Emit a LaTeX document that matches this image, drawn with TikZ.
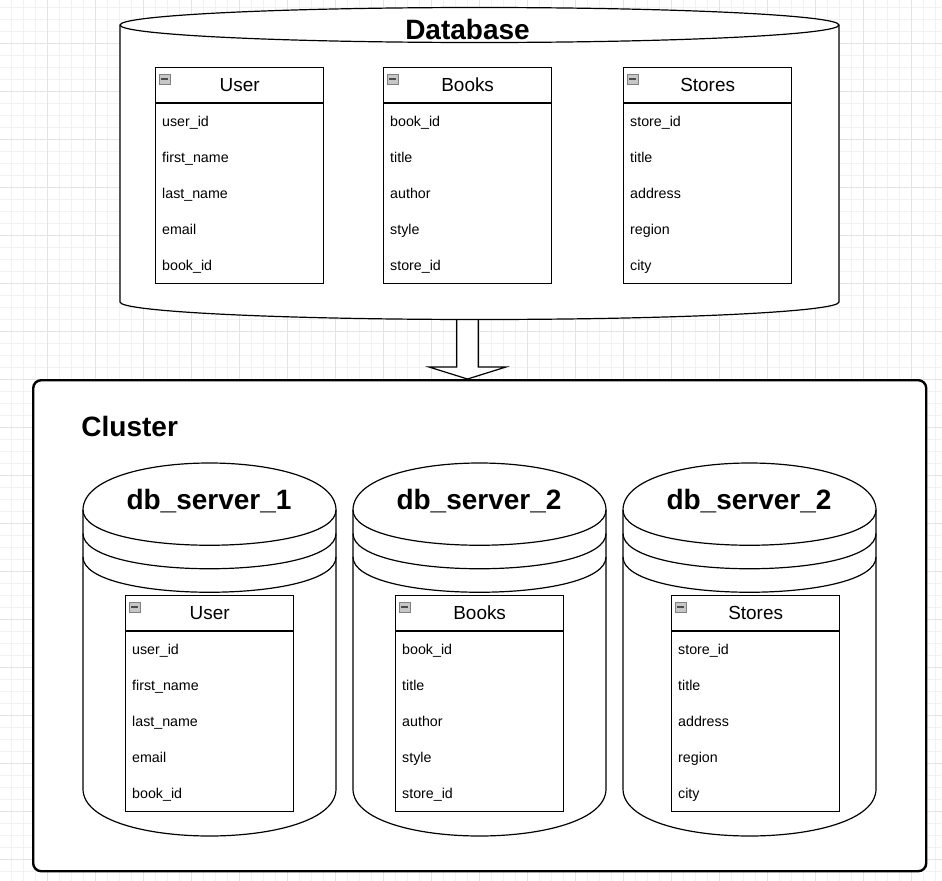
\documentclass[tikz,border=0pt]{standalone}
\usepackage{fontspec}
\setmainfont{Liberation Sans}
\usetikzlibrary{calc}

\tikzset{
  minorgrid/.style={draw=black!5, line width=0.8bp},
  majorgrid/.style={draw=black!11, line width=0.8bp},
  shapeline/.style={draw=black, line width=1.2bp, fill=white},
  curveline/.style={draw=black, line width=1.2bp},
  tablebox/.style={draw=black, line width=1.3bp, fill=white, inner sep=0pt,
    minimum width=168bp, minimum height=216bp, anchor=north west},
  tabtitle/.style={font=\fontsize{19}{22}\selectfont, inner sep=0pt, anchor=base},
  rowtext/.style={font=\fontsize{14.3}{17}\selectfont, inner sep=0pt, anchor=base west},
  bigtitle/.style={font=\fontsize{28.1}{33}\selectfont\bfseries, inner sep=0pt, anchor=base},
  iconbox/.style={draw=black!50, fill=black!22, line width=0.8bp},
  clusterbox/.style={draw=black, fill=white, line width=2.4bp, rounded corners=8bp,
    inner sep=0pt, minimum width=893bp, minimum height=491bp, anchor=north west},
}

\newcommand{\ertable}[5]{%
  \node[tablebox] (#1) at (#2,#3) {};
  \draw[line width=1.3bp] ($(#1.north west)+(0,36)$) -- ($(#1.north east)+(0,36)$);
  \draw[iconbox] ($(#1.north west)+(4,7)$) rectangle ++(11,10);
  \draw[black!70, line width=1.2bp] ($(#1.north west)+(6,12)$) -- ++(7,0);
  \node[tabtitle] (#1-title) at ($(#1.north)+(0,24.7)$) {#4};
  \foreach \r [count=\i] in {#5} {
    \node[rowtext] (#1-r\i) at ($(#1.north west)+(7,23+36*\i)$) {\r};
  }
}

% draw.io style datastore: left x, top 463, width 253, height 373, dy 47
\newcommand{\dbserver}[3]{%
  \path[shapeline] (#2,510) .. controls (#2,447.33) and (#2+253,447.33) .. (#2+253,510)
    -- (#2+253,789) .. controls (#2+253,851.67) and (#2,851.67) .. (#2,789) -- cycle;
  \draw[curveline] (#2,510) .. controls (#2,557) and (#2+253,557) .. (#2+253,510);
  \draw[curveline] (#2,533.5) .. controls (#2,580.5) and (#2+253,580.5) .. (#2+253,533.5);
  \draw[curveline] (#2,557) .. controls (#2,604) and (#2+253,604) .. (#2+253,557);
  \node[bigtitle] (#1) at (#2+126,509.3) {#3};
}

\begin{document}
\begin{tikzpicture}[x=1bp,y=-1bp]
\useasboundingbox (0,0) rectangle (942,881);
\fill[white] (0,0) rectangle (942,881);

% grid
\foreach \i in {0,...,78} {
  \draw[minorgrid] (11.7+12*\i,0) -- (11.7+12*\i,881);
}
\foreach \i in {0,...,73} {
  \draw[minorgrid] (0,7.7+12*\i) -- (942,7.7+12*\i);
}
\foreach \i in {0,...,19} {
  \draw[majorgrid] (47.7+48*\i,0) -- (47.7+48*\i,881);
}
\foreach \i in {0,...,18} {
  \draw[majorgrid] (0,-4.3+48*\i) -- (942,-4.3+48*\i);
}

% cluster
\node[clusterbox] (cluster) at (32,379) {};
\node[bigtitle, anchor=base west] (clustertitle) at (81.3,436.7) {Cluster};

% arrow
\coordinate (arrtop) at (467.5,312);
\coordinate (arrtip) at (arrtop |- cluster.north);
\draw[shapeline, line join=miter]
  ($(arrtop)+(-10.8,0)$) -- ($(arrtip)+(-10.8,-12)$) -- ($(arrtip)+(-38.5,-12)$)
  -- (arrtip) -- ($(arrtip)+(38.5,-12)$) -- ($(arrtip)+(10.8,-12)$)
  -- ($(arrtop)+(10.8,0)$) -- cycle;

% database cylinder (center x 479.5, rx 359.5, ry 17.5)
\path[shapeline] (120,25) -- (120,302)
  .. controls (120,311.67) and (280.94,319.5) .. (479.5,319.5)
  .. controls (678.06,319.5) and (839,311.67) .. (839,302)
  -- (839,25)
  .. controls (839,15.33) and (678.06,7.5) .. (479.5,7.5)
  .. controls (280.94,7.5) and (120,15.33) .. (120,25) -- cycle;
\draw[curveline] (120,25)
  .. controls (120,34.67) and (280.94,42.5) .. (479.5,42.5)
  .. controls (678.06,42.5) and (839,34.67) .. (839,25);
\node[bigtitle] (dbtitle) at (467.5,39.5) {Database};

\ertable{dbuser}{155}{67}{User}{user\_id,first\_name,last\_name,email,book\_id}
\ertable{dbbooks}{383}{67}{Books}{book\_id,title,author,style,store\_id}
\ertable{dbstores}{623}{67}{Stores}{store\_id,title,address,region,city}

% servers
\dbserver{srv1}{83}{db\_server\_1}
\dbserver{srv2}{353}{db\_server\_2}
\dbserver{srv3}{623}{db\_server\_2}

\ertable{s1user}{125}{595}{User}{user\_id,first\_name,last\_name,email,book\_id}
\ertable{s2books}{395}{595}{Books}{book\_id,title,author,style,store\_id}
\ertable{s3stores}{671}{595}{Stores}{store\_id,title,address,region,city}
\end{tikzpicture}
\end{document}
